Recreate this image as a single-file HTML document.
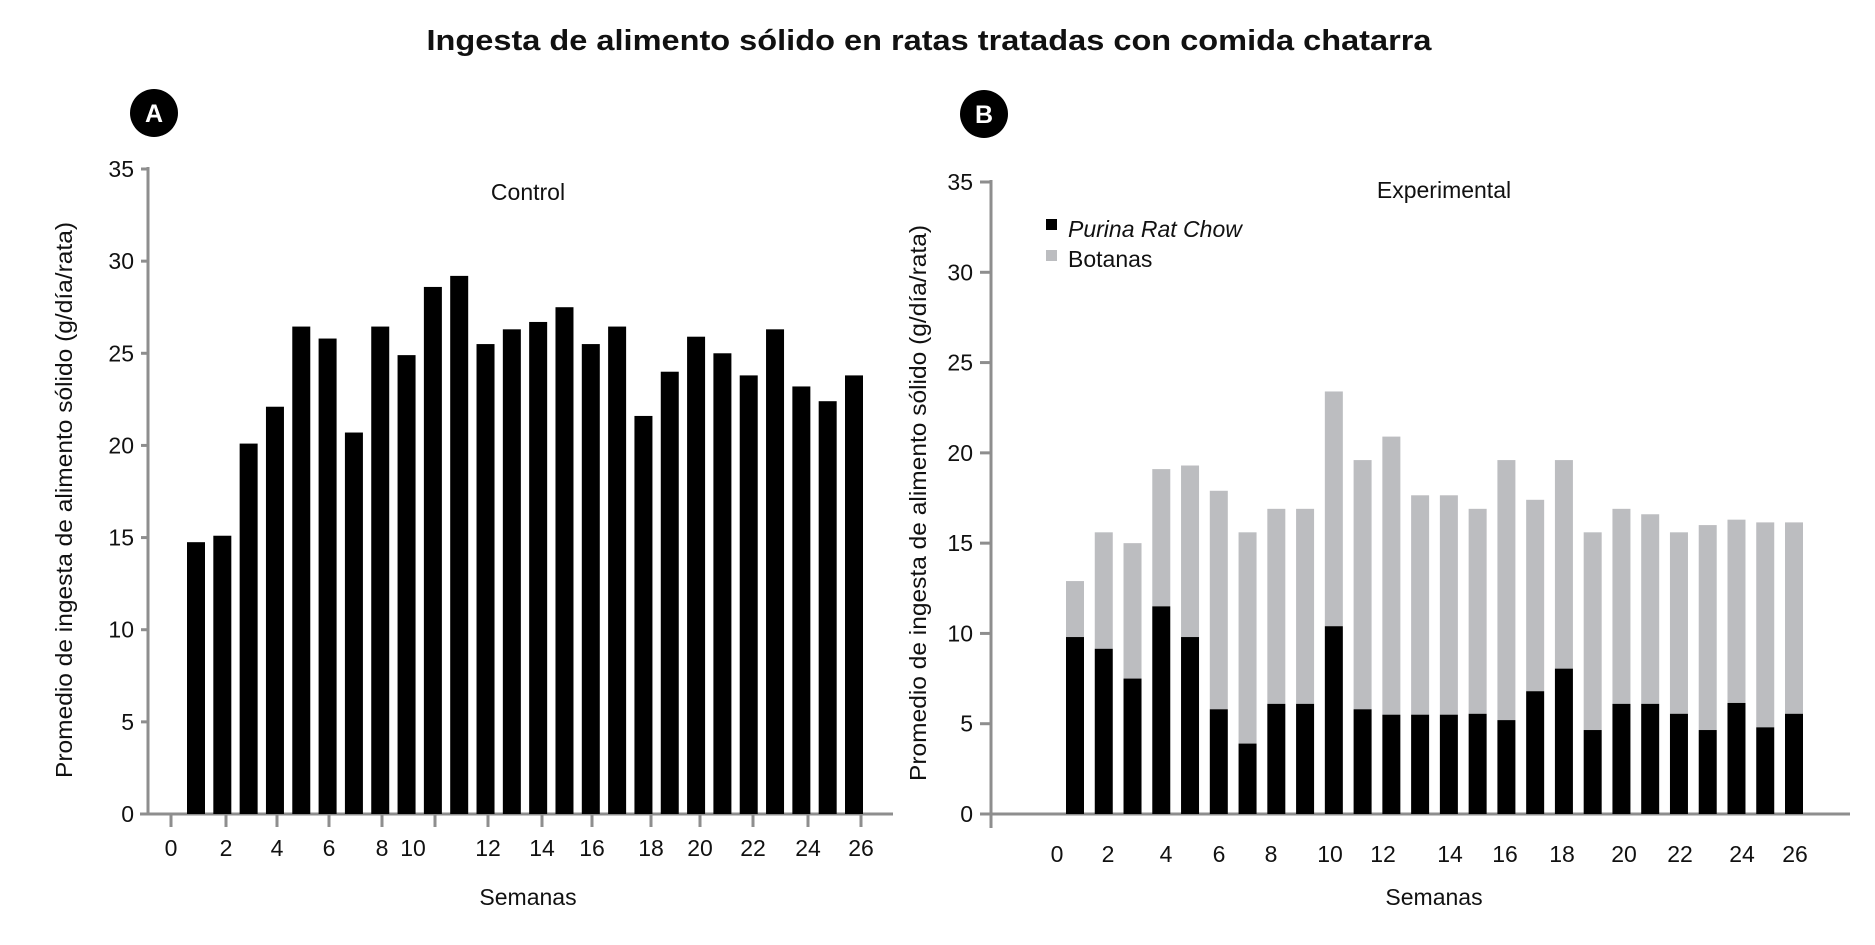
<!DOCTYPE html>
<html><head><meta charset="utf-8">
<style>
html,body{margin:0;padding:0;background:#fff;}
svg{display:block;font-family:"Liberation Sans",sans-serif;}
</style></head>
<body>
<svg id="chart" width="1875" height="945" viewBox="0 0 1875 945" xmlns="http://www.w3.org/2000/svg">
<text x="929" y="50" text-anchor="middle" font-size="29" font-weight="bold" fill="#111" textLength="1005" lengthAdjust="spacingAndGlyphs">Ingesta de alimento sólido en ratas tratadas con comida chatarra</text>
<g><circle cx="154" cy="113" r="24" fill="#000"/><text x="154" y="122" text-anchor="middle" font-size="25" font-weight="bold" fill="#fff">A</text></g>
<g><circle cx="984" cy="114" r="24" fill="#000"/><text x="984" y="123" text-anchor="middle" font-size="25" font-weight="bold" fill="#fff">B</text></g>
<g id="pa"></g>
<g id="pb"></g>
</svg>
<script>
const weeks = [1,2,3,4,5,6,7,8,9,10,11,12,13,14,15,16,17,18,19,20,21,22,23,24,25,26];
const controlValues = [14.75,15.1,20.1,22.1,26.45,25.8,20.7,26.45,24.9,28.6,29.2,25.5,26.3,26.7,27.5,25.5,26.45,21.6,24.0,25.9,25.0,23.8,26.3,23.2,22.4,23.8];
const purinaValues = [9.8,9.15,7.5,11.5,9.8,5.8,3.9,6.1,6.1,10.4,5.8,5.5,5.5,5.5,5.55,5.2,6.8,8.05,4.65,6.1,6.1,5.55,4.65,6.15,4.8,5.55];
const totalValues = [12.9,15.6,15.0,19.1,19.3,17.9,15.6,16.9,16.9,23.4,19.6,20.9,17.65,17.65,16.9,19.6,17.4,19.6,15.6,16.9,16.6,15.6,16.0,16.3,16.15,16.15];
const yTicks = [0,5,10,15,20,25,30,35];
const xTickLabelsA = ['0','2','4','6','8','10','','12','14','16','18','20','22','24','26'];
const xTickLabelsB = ['0','2','4','6','8','10','12','14','16','18','20','22','24','26'];

const NS='http://www.w3.org/2000/svg';
function mk(parent,tag,attrs,text){const e=document.createElementNS(NS,tag);for(const k in attrs)e.setAttribute(k,attrs[k]);if(text!==undefined)e.textContent=text;parent.appendChild(e);return e;}
const AX='#8e8e8e', TX='#111', FS=23;

const yA = v => 814 - v*(645/35);
const xA = w => 196 + (w-1)*26.32;
const tickXA = [171,226,277,329,382,413,435,488,542,592,651,700,753,808,861];
const tickMarkA = [true,true,true,true,true,false,true,true,true,true,true,true,true,true,true];
const yB = v => 814 - v*(632/35);
const xB = w => 1075 + (w-1)*28.76;
const tickXB = [1057,1108,1166,1219,1271,1330,1383,1450,1505,1562,1624,1680,1742,1795];

const pa=document.getElementById('pa');
let t;
t=mk(pa,'line',{x1:148,y1:167,x2:148,y2:815,stroke:AX,'stroke-width':3});


t=mk(pa,'line',{x1:140,y1:814,x2:893,y2:814,stroke:AX,'stroke-width':3});


yTicks.forEach(v=>{
  t=mk(pa,'line',{x1:141,y1:yA(v),x2:148,y2:yA(v),stroke:AX,'stroke-width':3});
  
  
  t=mk(pa,'text',{x:134,y:yA(v)+8,'text-anchor':'end','font-size':FS,fill:TX},String(v));
  
  
});
xTickLabelsA.forEach((lab,i)=>{
  if(tickMarkA[i]){
    t=mk(pa,'line',{x1:tickXA[i],y1:814,x2:tickXA[i],y2:827,stroke:AX,'stroke-width':3});
    
    
  }
  if(lab){
    t=mk(pa,'text',{x:tickXA[i],y:856,'text-anchor':'middle','font-size':FS,fill:TX},lab);
    
    
  }
});
weeks.forEach((w,i)=>{
  t=mk(pa,'rect',{x:xA(w)-9,y:yA(controlValues[i]),width:18,height:814-yA(controlValues[i]),fill:'#000'});
  
  
});
t=mk(pa,'text',{x:528,y:200,'text-anchor':'middle','font-size':FS,fill:TX},'Control');


t=mk(pa,'text',{x:528,y:905,'text-anchor':'middle','font-size':FS,fill:TX},'Semanas');


t=mk(pa,'text',{x:0,y:0,'text-anchor':'middle','font-size':FS,fill:TX,transform:'translate(72,500) rotate(-90)','xml:space':'preserve',textLength:556,lengthAdjust:'spacingAndGlyphs'},'Promedio de ingesta  de alimento sólido (g/día/rata)');



const pb=document.getElementById('pb');
t=mk(pb,'line',{x1:991,y1:180,x2:991,y2:828,stroke:AX,'stroke-width':3});


t=mk(pb,'line',{x1:991,y1:814,x2:1850,y2:814,stroke:AX,'stroke-width':3});


yTicks.forEach(v=>{
  t=mk(pb,'line',{x1:980,y1:yB(v),x2:991,y2:yB(v),stroke:AX,'stroke-width':3});
  
  
  t=mk(pb,'text',{x:973,y:yB(v)+8,'text-anchor':'end','font-size':FS,fill:TX},String(v));
  
  
});
xTickLabelsB.forEach((lab,i)=>{
  t=mk(pb,'text',{x:tickXB[i],y:862,'text-anchor':'middle','font-size':FS,fill:TX},lab);
  
  
});
weeks.forEach((w,i)=>{
  t=mk(pb,'rect',{x:xB(w)-9,y:yB(totalValues[i]),width:18,height:yB(purinaValues[i])-yB(totalValues[i]),fill:'#bcbdc0'});
  
  
  t=mk(pb,'rect',{x:xB(w)-9,y:yB(purinaValues[i]),width:18,height:814-yB(purinaValues[i]),fill:'#000'});
  
  
});
t=mk(pb,'text',{x:1444,y:198,'text-anchor':'middle','font-size':FS,fill:TX},'Experimental');


t=mk(pb,'rect',{x:1046,y:219,width:11,height:11,fill:'#000'});


t=mk(pb,'text',{x:1068,y:237,'font-size':FS,'font-style':'italic',fill:TX},'Purina Rat Chow');


t=mk(pb,'rect',{x:1046,y:250,width:11,height:11,fill:'#bcbdc0'});


t=mk(pb,'text',{x:1068,y:267,'font-size':FS,fill:TX},'Botanas');


t=mk(pb,'text',{x:1434,y:905,'text-anchor':'middle','font-size':FS,fill:TX},'Semanas');


t=mk(pb,'text',{x:0,y:0,'text-anchor':'middle','font-size':FS,fill:TX,transform:'translate(926,503) rotate(-90)','xml:space':'preserve',textLength:556,lengthAdjust:'spacingAndGlyphs'},'Promedio de ingesta  de alimento sólido (g/día/rata)');


</script>
</body></html>
